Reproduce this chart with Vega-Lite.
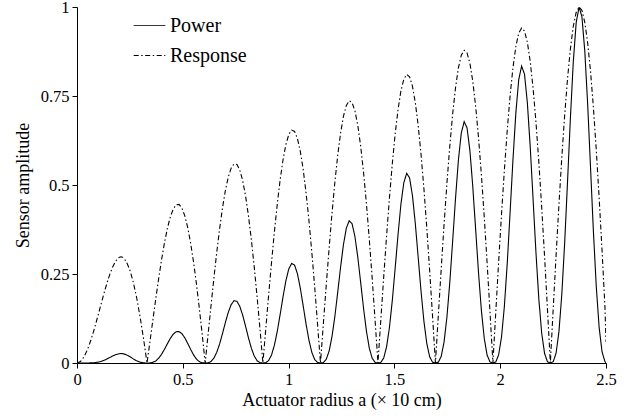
{
  "$schema": "https://vega.github.io/schema/vega-lite/v6.json",
  "width": 529,
  "height": 356,
  "autosize": {"type": "none"},
  "padding": {"left": 77, "top": 7, "right": 29, "bottom": 54},
  "background": "white",
  "config": {
    "view": {"stroke": null},
    "font": "Liberation Serif",
    "axis": {
      "domainColor": "black", "tickColor": "black", "labelColor": "black", "titleColor": "black",
      "labelFont": "Liberation Serif", "titleFont": "Liberation Serif",
      "labelFontSize": 16.5, "titleFontSize": 18, "titleFontWeight": "normal",
      "grid": false, "tickSize": 5, "labelPadding": 3, "domainWidth": 1, "tickWidth": 1
    },
    "legend": {
      "labelFont": "Liberation Serif", "labelFontSize": 20, "labelColor": "black"
    }
  },
  "data": {"values": [
    {"a":0,"Response":0,"Power":0},
    {"a":0.0165,"Response":0.0044,"Power":0},
    {"a":0.0331,"Response":0.0172,"Power":0.00001},
    {"a":0.0496,"Response":0.0379,"Power":0.00005},
    {"a":0.0662,"Response":0.0652,"Power":0.00028},
    {"a":0.0827,"Response":0.0975,"Power":0.00093},
    {"a":0.0993,"Response":0.1332,"Power":0.00236},
    {"a":0.1158,"Response":0.1701,"Power":0.00492},
    {"a":0.1324,"Response":0.2060,"Power":0.00874},
    {"a":0.1489,"Response":0.2386,"Power":0.01359},
    {"a":0.1655,"Response":0.2659,"Power":0.01880},
    {"a":0.1820,"Response":0.2858,"Power":0.02335},
    {"a":0.1985,"Response":0.2967,"Power":0.02612},
    {"a":0.2077,"Response":0.2983,"Power":0.02655},
    {"a":0.2151,"Response":0.2972,"Power":0.02626},
    {"a":0.2316,"Response":0.2865,"Power":0.02352},
    {"a":0.2482,"Response":0.2641,"Power":0.01843},
    {"a":0.2647,"Response":0.2303,"Power":0.01221},
    {"a":0.2813,"Response":0.1854,"Power":0.00638},
    {"a":0.2978,"Response":0.1310,"Power":0.00225},
    {"a":0.3144,"Response":0.0685,"Power":0.00032},
    {"a":0.3309,"Response":0,"Power":0},
    {"a":0.3446,"Response":0.0596,"Power":0.00021},
    {"a":0.3584,"Response":0.1201,"Power":0.00173},
    {"a":0.3721,"Response":0.1797,"Power":0.00581},
    {"a":0.3859,"Response":0.2370,"Power":0.01330},
    {"a":0.3996,"Response":0.2901,"Power":0.02441},
    {"a":0.4134,"Response":0.3376,"Power":0.03847},
    {"a":0.4271,"Response":0.3780,"Power":0.05400},
    {"a":0.4409,"Response":0.4100,"Power":0.06891},
    {"a":0.4546,"Response":0.4324,"Power":0.08086},
    {"a":0.4684,"Response":0.4445,"Power":0.08780},
    {"a":0.4821,"Response":0.4454,"Power":0.08839},
    {"a":0.4958,"Response":0.4351,"Power":0.08236},
    {"a":0.5096,"Response":0.4132,"Power":0.07057},
    {"a":0.5233,"Response":0.3803,"Power":0.05499},
    {"a":0.5371,"Response":0.3367,"Power":0.03818},
    {"a":0.5508,"Response":0.2835,"Power":0.02278},
    {"a":0.5646,"Response":0.2217,"Power":0.01089},
    {"a":0.5783,"Response":0.1527,"Power":0.00356},
    {"a":0.5921,"Response":0.0782,"Power":0.00048},
    {"a":0.6058,"Response":0,"Power":0},
    {"a":0.6194,"Response":0.0799,"Power":0.00051},
    {"a":0.6331,"Response":0.1596,"Power":0.00407},
    {"a":0.6467,"Response":0.2371,"Power":0.01332},
    {"a":0.6603,"Response":0.3101,"Power":0.02983},
    {"a":0.6740,"Response":0.3769,"Power":0.05354},
    {"a":0.6876,"Response":0.4356,"Power":0.08263},
    {"a":0.7012,"Response":0.4845,"Power":0.11370},
    {"a":0.7149,"Response":0.5221,"Power":0.14236},
    {"a":0.7285,"Response":0.5474,"Power":0.16402},
    {"a":0.7422,"Response":0.5594,"Power":0.17505},
    {"a":0.7558,"Response":0.5576,"Power":0.17336},
    {"a":0.7694,"Response":0.5418,"Power":0.15903},
    {"a":0.7831,"Response":0.5120,"Power":0.13424},
    {"a":0.7967,"Response":0.4690,"Power":0.10313},
    {"a":0.8103,"Response":0.4134,"Power":0.07064},
    {"a":0.8240,"Response":0.3465,"Power":0.04161},
    {"a":0.8376,"Response":0.2699,"Power":0.01965},
    {"a":0.8512,"Response":0.1852,"Power":0.00635},
    {"a":0.8649,"Response":0.0945,"Power":0.00084},
    {"a":0.8785,"Response":0,"Power":0},
    {"a":0.8921,"Response":0.0959,"Power":0.00088},
    {"a":0.9057,"Response":0.1910,"Power":0.00697},
    {"a":0.9193,"Response":0.2827,"Power":0.02259},
    {"a":0.9329,"Response":0.3687,"Power":0.05012},
    {"a":0.9465,"Response":0.4468,"Power":0.08917},
    {"a":0.9601,"Response":0.5148,"Power":0.13642},
    {"a":0.9737,"Response":0.5710,"Power":0.18616},
    {"a":0.9873,"Response":0.6138,"Power":0.23119},
    {"a":1.0009,"Response":0.6418,"Power":0.26431},
    {"a":1.0146,"Response":0.6542,"Power":0.27992},
    {"a":1.0282,"Response":0.6504,"Power":0.27518},
    {"a":1.0418,"Response":0.6305,"Power":0.25061},
    {"a":1.0554,"Response":0.5945,"Power":0.21009},
    {"a":1.0690,"Response":0.5432,"Power":0.16032},
    {"a":1.0826,"Response":0.4778,"Power":0.10910},
    {"a":1.0962,"Response":0.3997,"Power":0.06385},
    {"a":1.1098,"Response":0.3106,"Power":0.02997},
    {"a":1.1234,"Response":0.2127,"Power":0.00962},
    {"a":1.1370,"Response":0.1083,"Power":0.00127},
    {"a":1.1506,"Response":0,"Power":0},
    {"a":1.1642,"Response":0.1096,"Power":0.00132},
    {"a":1.1778,"Response":0.2178,"Power":0.01033},
    {"a":1.1914,"Response":0.3218,"Power":0.03332},
    {"a":1.2049,"Response":0.4190,"Power":0.07356},
    {"a":1.2185,"Response":0.5069,"Power":0.13022},
    {"a":1.2321,"Response":0.5831,"Power":0.19830},
    {"a":1.2457,"Response":0.6458,"Power":0.26931},
    {"a":1.2593,"Response":0.6931,"Power":0.33294},
    {"a":1.2729,"Response":0.7236,"Power":0.37894},
    {"a":1.2865,"Response":0.7366,"Power":0.39958},
    {"a":1.3000,"Response":0.7313,"Power":0.39115},
    {"a":1.3136,"Response":0.7079,"Power":0.35474},
    {"a":1.3272,"Response":0.6666,"Power":0.29621},
    {"a":1.3408,"Response":0.6083,"Power":0.22513},
    {"a":1.3544,"Response":0.5344,"Power":0.15262},
    {"a":1.3680,"Response":0.4465,"Power":0.08900},
    {"a":1.3815,"Response":0.3466,"Power":0.04162},
    {"a":1.3951,"Response":0.2370,"Power":0.01332},
    {"a":1.4087,"Response":0.1206,"Power":0.00175},
    {"a":1.4223,"Response":0,"Power":0},
    {"a":1.4359,"Response":0.1217,"Power":0.00180},
    {"a":1.4495,"Response":0.2416,"Power":0.01410},
    {"a":1.4630,"Response":0.3566,"Power":0.04536},
    {"a":1.4766,"Response":0.4639,"Power":0.09981},
    {"a":1.4902,"Response":0.5606,"Power":0.17616},
    {"a":1.5038,"Response":0.6443,"Power":0.26743},
    {"a":1.5174,"Response":0.7128,"Power":0.36213},
    {"a":1.5309,"Response":0.7643,"Power":0.44640},
    {"a":1.5445,"Response":0.7972,"Power":0.50660},
    {"a":1.5581,"Response":0.8107,"Power":0.53272},
    {"a":1.5717,"Response":0.8042,"Power":0.52005},
    {"a":1.5853,"Response":0.7777,"Power":0.47039},
    {"a":1.5988,"Response":0.7317,"Power":0.39171},
    {"a":1.6124,"Response":0.6672,"Power":0.29694},
    {"a":1.6260,"Response":0.5856,"Power":0.20079},
    {"a":1.6396,"Response":0.4888,"Power":0.11679},
    {"a":1.6532,"Response":0.3791,"Power":0.05448},
    {"a":1.6667,"Response":0.2591,"Power":0.01739},
    {"a":1.6803,"Response":0.1317,"Power":0.00228},
    {"a":1.6939,"Response":0,"Power":0},
    {"a":1.7075,"Response":0.1327,"Power":0.00234},
    {"a":1.7211,"Response":0.2633,"Power":0.01824},
    {"a":1.7346,"Response":0.3883,"Power":0.05855},
    {"a":1.7482,"Response":0.5047,"Power":0.12857},
    {"a":1.7618,"Response":0.6095,"Power":0.22643},
    {"a":1.7754,"Response":0.7000,"Power":0.34303},
    {"a":1.7890,"Response":0.7739,"Power":0.46356},
    {"a":1.8025,"Response":0.8293,"Power":0.57026},
    {"a":1.8161,"Response":0.8644,"Power":0.64591},
    {"a":1.8297,"Response":0.8785,"Power":0.67788},
    {"a":1.8433,"Response":0.8709,"Power":0.66048},
    {"a":1.8569,"Response":0.8417,"Power":0.59629},
    {"a":1.8704,"Response":0.7914,"Power":0.49565},
    {"a":1.8840,"Response":0.7212,"Power":0.37504},
    {"a":1.8976,"Response":0.6326,"Power":0.25316},
    {"a":1.9112,"Response":0.5277,"Power":0.14698},
    {"a":1.9248,"Response":0.4091,"Power":0.06845},
    {"a":1.9383,"Response":0.2794,"Power":0.02181},
    {"a":1.9519,"Response":0.1419,"Power":0.00286},
    {"a":1.9655,"Response":0,"Power":0},
    {"a":1.9791,"Response":0.1429,"Power":0.00292},
    {"a":1.9926,"Response":0.2833,"Power":0.02273},
    {"a":2.0062,"Response":0.4176,"Power":0.07283},
    {"a":2.0198,"Response":0.5425,"Power":0.15965},
    {"a":2.0334,"Response":0.6548,"Power":0.28072},
    {"a":2.0469,"Response":0.7516,"Power":0.42463},
    {"a":2.0605,"Response":0.8305,"Power":0.57291},
    {"a":2.0741,"Response":0.8895,"Power":0.70371},
    {"a":2.0876,"Response":0.9267,"Power":0.79588},
    {"a":2.1012,"Response":0.9413,"Power":0.83404},
    {"a":2.1148,"Response":0.9327,"Power":0.81144},
    {"a":2.1283,"Response":0.9010,"Power":0.73151},
    {"a":2.1419,"Response":0.8468,"Power":0.60720},
    {"a":2.1555,"Response":0.7713,"Power":0.45885},
    {"a":2.1691,"Response":0.6763,"Power":0.30929},
    {"a":2.1826,"Response":0.5639,"Power":0.17935},
    {"a":2.1962,"Response":0.4369,"Power":0.08341},
    {"a":2.2098,"Response":0.2983,"Power":0.02654},
    {"a":2.2233,"Response":0.1515,"Power":0.00347},
    {"a":2.2369,"Response":0,"Power":0},
    {"a":2.2505,"Response":0.1524,"Power":0.00354},
    {"a":2.2641,"Response":0.3019,"Power":0.02753},
    {"a":2.2776,"Response":0.4450,"Power":0.08810},
    {"a":2.2912,"Response":0.5778,"Power":0.19291},
    {"a":2.3048,"Response":0.6971,"Power":0.33880},
    {"a":2.3184,"Response":0.7999,"Power":0.51189},
    {"a":2.3319,"Response":0.8836,"Power":0.68985},
    {"a":2.3455,"Response":0.9459,"Power":0.84640},
    {"a":2.3591,"Response":0.9852,"Power":0.95617},
    {"a":2.3727,"Response":1.0000,"Power":1.00000},
    {"a":2.3862,"Response":0.9908,"Power":0.97271},
    {"a":2.3998,"Response":0.9568,"Power":0.87595},
    {"a":2.4134,"Response":0.8989,"Power":0.72628},
    {"a":2.4270,"Response":0.8185,"Power":0.54825},
    {"a":2.4405,"Response":0.7174,"Power":0.36914},
    {"a":2.4541,"Response":0.5980,"Power":0.21383},
    {"a":2.4677,"Response":0.4631,"Power":0.09934},
    {"a":2.4813,"Response":0.3161,"Power":0.03158},
    {"a":2.4948,"Response":0.1604,"Power":0.00413},
    {"a":2.5,"Response":0.06,"Power":0.0002}
  ]},
  "transform": [{"fold": ["Power", "Response"], "as": ["series", "value"]}],
  "mark": {"type": "line", "color": "black", "strokeWidth": 1.1, "clip": true},
  "encoding": {
    "x": {
      "field": "a", "type": "quantitative",
      "scale": {"domain": [0, 2.5], "nice": false, "zero": false},
      "axis": {"values": [0, 0.5, 1, 1.5, 2, 2.5], "format": ".2~f", "title": "Actuator radius a (× 10 cm)", "titlePadding": 4, "labelFlush": false, "labelFont": "Liberation Serif", "titleFont": "Liberation Serif"}
    },
    "y": {
      "field": "value", "type": "quantitative",
      "scale": {"domain": [0, 1], "nice": false},
      "axis": {"values": [0, 0.25, 0.5, 0.75, 1], "format": ".2~f", "title": "Sensor amplitude", "titlePadding": 8, "labelFlush": false, "labelFont": "Liberation Serif", "titleFont": "Liberation Serif"}
    },
    "strokeDash": {
      "field": "series", "type": "nominal",
      "scale": {"domain": ["Power", "Response"], "range": [[1, 0], [5, 2.5, 1.5, 2.5]]},
      "legend": {
        "title": null, "orient": "none", "legendX": 56, "legendY": 2,
        "padding": 0, "symbolType": "stroke", "symbolSize": 1000,
        "symbolStrokeWidth": 1, "symbolStrokeColor": "black",
        "labelOffset": 4, "rowPadding": 3, "labelFont": "Liberation Serif"
      }
    }
  }
}
